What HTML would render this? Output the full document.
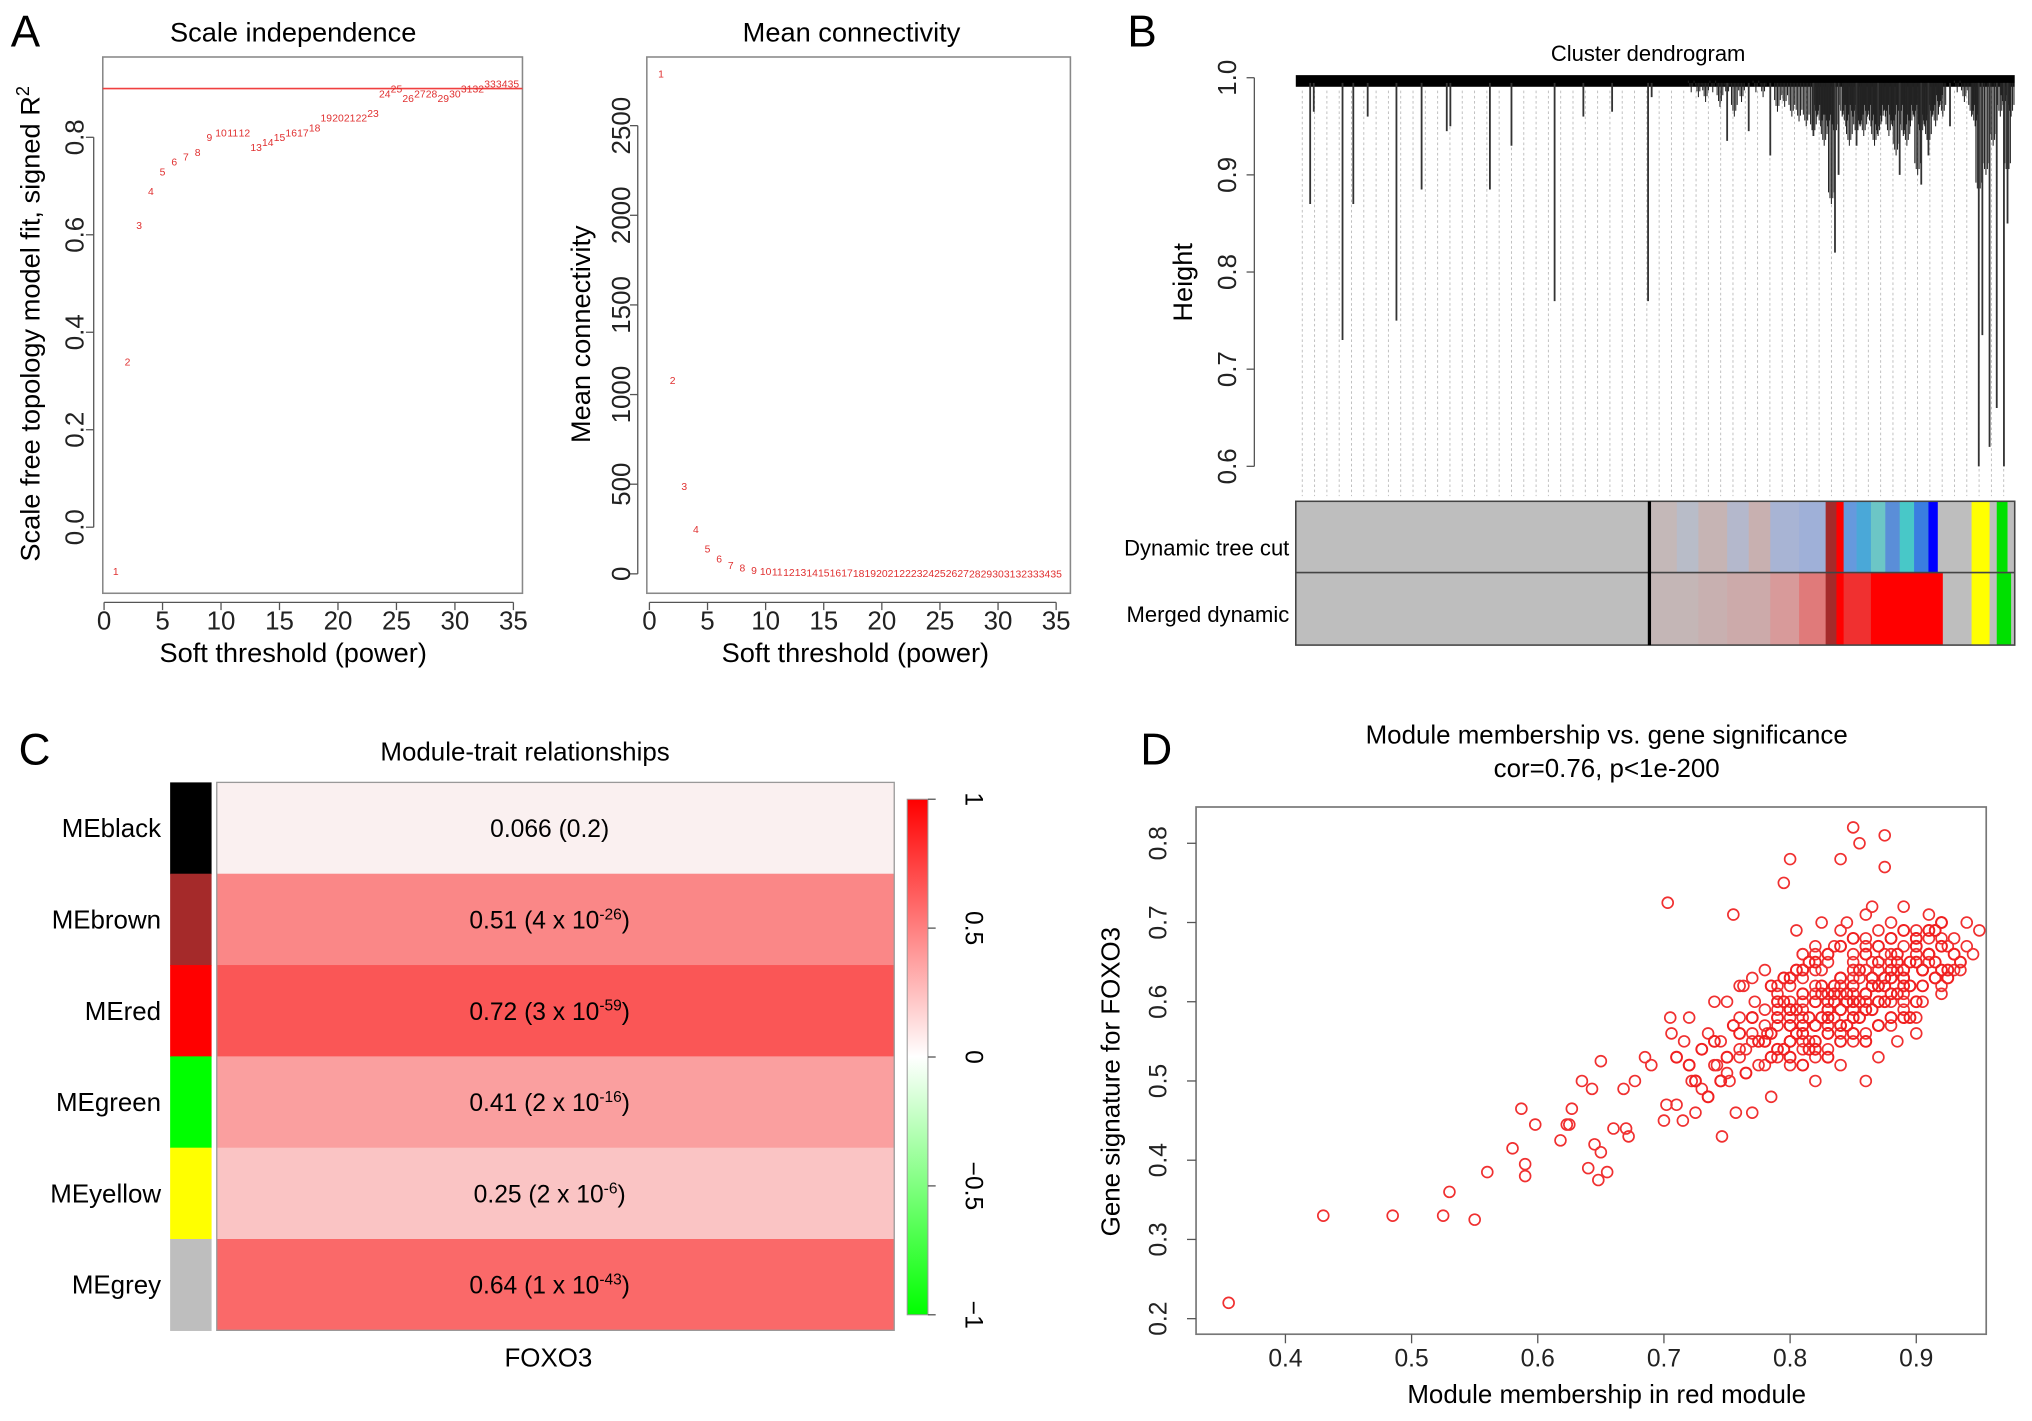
<!DOCTYPE html>
<html><head><meta charset="utf-8">
<style>
html,body{margin:0;padding:0;background:#fff;}
svg{display:block;font-family:"Liberation Sans",Arial,sans-serif;}
</style></head>
<body>
<svg id="fig" width="2032" height="1421" viewBox="0 0 1568 1097" xmlns="http://www.w3.org/2000/svg">
<rect x="0" y="0" width="1568" height="1097" fill="#fff"/>
<text x="8" y="36" font-size="34">A</text>
<text x="870" y="36" font-size="34">B</text>
<text x="14" y="590" font-size="34">C</text>
<text x="880" y="590" font-size="34">D</text>
<g id="pA1"></g>
<g id="pA2"></g>
<g id="pB"></g>
<g id="pC"></g>
<g id="pD"></g>
</svg>
<script>
// ---- Panel A data ----
const powers = [1,2,3,4,5,6,7,8,9,10,11,12,13,14,15,16,17,18,19,20,21,22,23,24,25,26,27,28,29,30,31,32,33,34,35];
const r2Values = [-0.09,0.34,0.62,0.69,0.73,0.75,0.76,0.77,0.80,0.81,0.81,0.81,0.78,0.79,0.80,0.81,0.81,0.82,0.84,0.84,0.84,0.84,0.85,0.89,0.90,0.88,0.89,0.89,0.88,0.89,0.90,0.90,0.91,0.91,0.91];
const r2Cutoff = 0.9;
const r2Ticks = [0.0,0.2,0.4,0.6,0.8];
const powerTicks = [0,5,10,15,20,25,30,35];
const meanK = [2790,1080,490,250,140,85,50,35,22,15,12,10,9,8,7,6,6,5,5,4,4,4,3,3,3,3,3,2,2,2,2,2,2,2,2];
const kTicks = [0,500,1000,1500,2000,2500];
// ---- Panel B data ----
const dendroTicks = [0.6,0.7,0.8,0.9,1.0];
const dropPos = [0.02,0.025,0.065,0.08,0.1,0.14,0.175,0.21,0.215,0.27,0.3,0.36,0.40,0.44,0.49,0.495,0.6,0.63,0.66,0.72,0.75,0.755,0.78,0.81,0.84,0.87,0.88,0.91,0.95,0.955,0.965,0.975,0.985,0.99];
const dropHeight = [0.87,0.965,0.73,0.87,0.96,0.75,0.885,0.945,0.95,0.885,0.93,0.77,0.96,0.965,0.77,0.98,0.935,0.945,0.92,0.94,0.82,0.9,0.93,0.95,0.9,0.89,0.92,0.95,0.6,0.735,0.62,0.66,0.6,0.85];
const densePos = [0.55,0.56,0.57,0.58,0.59,0.60,0.61,0.62,0.64,0.65,0.67,0.68,0.69,0.70,0.71,0.72,0.725,0.73,0.735,0.74,0.745,0.75,0.76,0.765,0.77,0.775,0.78,0.785,0.79,0.795,0.80,0.805,0.81,0.815,0.82,0.825,0.83,0.835,0.84,0.845,0.85,0.855,0.86,0.865,0.87,0.875,0.88,0.885,0.89,0.895,0.90,0.92,0.93,0.94,0.945,0.95,0.96,0.97,0.98,0.985,0.99,0.995];
const denseHeight = [0.985,0.98,0.975,0.985,0.97,0.98,0.96,0.975,0.985,0.98,0.965,0.97,0.96,0.955,0.95,0.94,0.96,0.95,0.93,0.95,0.87,0.94,0.96,0.95,0.93,0.96,0.94,0.95,0.94,0.96,0.95,0.93,0.94,0.955,0.96,0.94,0.95,0.92,0.96,0.94,0.93,0.95,0.96,0.9,0.94,0.95,0.93,0.96,0.95,0.97,0.96,0.985,0.975,0.96,0.95,0.88,0.9,0.93,0.96,0.97,0.9,0.96];
const dynStart = [0,0.49,0.53,0.56,0.6,0.63,0.66,0.7,0.737,0.752,0.762,0.78,0.8,0.82,0.84,0.86,0.88,0.893,0.94,0.965,0.975,0.99];
const dynColor = ['#bebebe','#c4b8b8','#b8bcc8','#c6b4b4','#b4b8cc','#c8b0b0','#a8b4d4','#9fb0d8','#a52a2a','#ff0000','#6699dd','#4aa8d8','#6cc6c6','#5a8ed8','#48c8c8','#3a7ee0','#0000ff','#bebebe','#ffff00','#bebebe','#00e000','#bebebe'];
const mrgStart = [0,0.49,0.56,0.6,0.66,0.7,0.737,0.752,0.762,0.8,0.9,0.94,0.965,0.975,0.995];
const mrgColor = ['#bebebe','#c4b6b6','#c8b0b0','#ccaaaa','#d89a9a','#e07a7a','#a52a2a','#ff0000','#f03030','#ff0000','#bebebe','#ffff00','#bebebe','#00e000','#bebebe'];
// ---- Panel C data ----
const modules = ['MEblack','MEbrown','MEred','MEgreen','MEyellow','MEgrey'];
const moduleColors = ['#000000','#a52a2a','#ff0000','#00ff00','#ffff00','#bebebe'];
const corValues = [0.066,0.51,0.72,0.41,0.25,0.64];
const pMant = ['0.2','4 x 10','3 x 10','2 x 10','2 x 10','1 x 10'];
const pExp = ['','-26','-59','-16','-6','-43'];
const cbTicks = [1,0.5,0,-0.5,-1];
// ---- Panel D data ----
const mmVals = [0.355,0.43,0.485,0.525,0.53,0.55,0.56,0.58,0.587,0.59,0.59,0.598,0.618,0.623,0.625,0.627,0.635,0.64,0.643,0.645,0.648,0.65,0.65,0.655,0.66,0.668,0.67,0.672,0.677,0.685,0.69,0.70,0.702,0.703,0.705,0.706,0.71,0.715,0.716,0.72,0.72,0.722,0.725,0.73,0.735,0.74,0.742,0.745,0.746,0.75,0.752,0.755,0.757,0.76,0.763,0.765,0.77,0.772,0.775,0.78,0.782,0.785,0.79,0.795,0.80,0.80,0.80,0.805,0.81,0.81,0.815,0.82,0.82,0.825,0.825,0.83,0.83,0.835,0.835,0.84,0.84,0.84,0.845,0.845,0.85,0.85,0.85,0.855,0.855,0.855,0.86,0.86,0.86,0.865,0.865,0.87,0.87,0.875,0.875,0.875,0.88,0.88,0.885,0.885,0.89,0.89,0.895,0.90,0.90,0.905,0.91,0.91,0.915,0.92,0.925,0.93,0.94,0.95,0.945,0.935,0.92,0.90,0.88,0.87,0.84,0.82,0.79,0.77,0.76,0.79,0.81,0.83,0.85,0.87,0.89,0.86,0.83,0.80,0.82,0.84,0.86,0.88,0.90,0.91,0.87,0.85,0.81,0.80,0.78,0.77,0.79,0.81,0.83,0.85,0.87,0.89,0.91,0.93,0.86,0.84,0.82,0.80,0.78,0.76,0.74,0.75,0.77,0.79,0.81,0.83,0.85,0.87,0.89,0.91,0.92,0.88,0.86,0.84,0.82,0.80,0.78,0.81,0.83,0.85,0.87,0.89,0.86,0.84,0.82,0.8,0.83,0.85,0.87,0.88,0.9,0.92,0.94,0.86,0.84,0.82,0.8,0.78,0.76,0.83,0.85,0.87,0.82,0.84,0.86,0.88,0.9,0.85,0.83,0.81,0.79,0.77];
const gsVals = [0.22,0.33,0.33,0.33,0.36,0.325,0.385,0.415,0.465,0.38,0.395,0.445,0.425,0.445,0.445,0.465,0.50,0.39,0.49,0.42,0.375,0.41,0.525,0.385,0.44,0.49,0.44,0.43,0.50,0.53,0.52,0.45,0.47,0.725,0.58,0.56,0.47,0.45,0.55,0.52,0.58,0.50,0.46,0.49,0.56,0.60,0.52,0.55,0.43,0.60,0.50,0.71,0.46,0.58,0.62,0.54,0.46,0.60,0.52,0.64,0.56,0.48,0.58,0.75,0.78,0.62,0.52,0.69,0.59,0.66,0.55,0.62,0.57,0.70,0.64,0.60,0.54,0.67,0.58,0.78,0.63,0.56,0.70,0.60,0.82,0.66,0.55,0.80,0.63,0.58,0.68,0.60,0.50,0.65,0.72,0.62,0.57,0.81,0.66,0.77,0.70,0.60,0.64,0.55,0.72,0.67,0.62,0.69,0.65,0.60,0.71,0.66,0.63,0.70,0.67,0.68,0.67,0.69,0.66,0.64,0.61,0.58,0.57,0.53,0.52,0.50,0.53,0.56,0.62,0.62,0.60,0.65,0.61,0.64,0.63,0.56,0.57,0.57,0.67,0.69,0.71,0.68,0.66,0.68,0.69,0.64,0.63,0.60,0.59,0.63,0.59,0.58,0.61,0.59,0.62,0.61,0.65,0.64,0.67,0.62,0.60,0.58,0.55,0.53,0.52,0.51,0.55,0.57,0.54,0.56,0.58,0.60,0.60,0.66,0.62,0.66,0.64,0.62,0.61,0.59,0.57,0.55,0.61,0.63,0.57,0.59,0.60,0.61,0.53,0.55,0.58,0.64,0.62,0.65,0.68,0.68,0.70,0.67,0.57,0.66,0.55,0.52,0.54,0.60,0.60,0.62,0.64,0.59,0.61,0.63,0.56,0.65,0.59,0.66,0.61,0.58];
const mmCore = [0.785,0.79,0.795,0.80,0.805,0.81,0.815,0.82,0.825,0.83,0.835,0.84,0.845,0.85,0.855,0.86,0.865,0.87,0.875,0.88,0.885,0.89,0.895,0.90,0.905,0.91,0.915,0.92,0.79,0.80,0.81,0.82,0.83,0.84,0.85,0.86,0.87,0.88,0.89,0.90,0.91,0.92,0.93,0.80,0.81,0.82,0.83,0.84,0.85,0.86,0.87,0.88,0.89,0.90,0.91,0.92,0.785,0.795,0.805,0.815,0.825,0.835,0.845,0.855,0.865,0.875,0.885,0.895,0.905,0.915,0.925,0.76,0.77,0.78,0.79,0.80,0.81,0.82,0.83,0.84,0.85,0.86,0.87,0.88,0.89,0.80,0.81,0.82,0.83,0.84,0.85,0.86,0.87,0.88,0.89,0.90,0.775,0.785,0.795,0.805,0.815,0.825,0.835,0.845,0.855,0.865,0.875,0.885,0.895,0.905,0.915,0.925,0.935,0.75,0.755,0.765,0.74,0.745,0.73,0.735,0.72,0.725,0.71];
const gsCore = [0.56,0.58,0.60,0.57,0.59,0.61,0.58,0.60,0.62,0.59,0.61,0.63,0.60,0.62,0.64,0.61,0.63,0.65,0.62,0.64,0.66,0.63,0.65,0.67,0.64,0.66,0.65,0.67,0.54,0.55,0.56,0.57,0.58,0.59,0.60,0.61,0.62,0.63,0.64,0.65,0.66,0.64,0.66,0.63,0.64,0.65,0.66,0.67,0.68,0.66,0.67,0.68,0.69,0.68,0.69,0.70,0.62,0.63,0.64,0.65,0.61,0.62,0.57,0.58,0.59,0.60,0.61,0.58,0.62,0.63,0.64,0.56,0.58,0.55,0.60,0.59,0.57,0.55,0.56,0.57,0.58,0.59,0.60,0.61,0.62,0.53,0.52,0.54,0.53,0.55,0.56,0.55,0.57,0.58,0.58,0.60,0.55,0.53,0.54,0.56,0.54,0.58,0.60,0.61,0.60,0.62,0.63,0.65,0.62,0.64,0.69,0.63,0.65,0.53,0.57,0.51,0.55,0.50,0.54,0.48,0.52,0.50,0.53,0.49];

const NS='http://www.w3.org/2000/svg';
function el(parent,tag,attrs,text){const e=document.createElementNS(NS,tag);for(const k in attrs)e.setAttribute(k,attrs[k]);if(text!==undefined)e.textContent=text;parent.appendChild(e);return e;}
const FT = 'font-size';

// ===== Panel A1 =====
(function(){
  const g=document.getElementById('pA1');
  const L=79,R=403,T=44,B=458;
  const xs=v=>80+(v-0)*(396-80)/35;
  const ys=v=>407-(v-0)*(407-106)/0.8;
  const box=el(g,'rect',{x:L,y:T,width:R-L,height:B-T,fill:'none',stroke:'#888','stroke-width':1.2});
  
  const t=el(g,'text',{x:226,y:32,'text-anchor':'middle',[FT]:21},'Scale independence');
  
  el(g,'line',{x1:xs(0),x2:xs(35),y1:465,y2:465,stroke:'#555'});
  powerTicks.forEach(v=>{el(g,'line',{x1:xs(v),x2:xs(v),y1:465,y2:471,stroke:'#555'});
    const tx=el(g,'text',{x:xs(v),y:486,'text-anchor':'middle',[FT]:20,fill:'#222'},v);
    });
  const xl=el(g,'text',{x:226,y:511,'text-anchor':'middle',[FT]:21},'Soft threshold (power)');
  
  el(g,'line',{x1:72,x2:72,y1:ys(0),y2:ys(0.8),stroke:'#555'});
  r2Ticks.forEach(v=>{el(g,'line',{x1:66,x2:72,y1:ys(v),y2:ys(v),stroke:'#555'});
    const tx=el(g,'text',{x:0,y:0,'text-anchor':'middle',[FT]:20,fill:'#222',transform:`translate(64,${ys(v)}) rotate(-90)`},v.toFixed(1));
    });
  const yl=el(g,'text',{x:0,y:0,'text-anchor':'middle',[FT]:21,transform:'translate(30,250) rotate(-90)'},'');
  yl.innerHTML='Scale free topology model fit, signed R<tspan dy="-8" font-size="14">2</tspan>';
  
  const ln=el(g,'line',{x1:L,x2:R,y1:ys(r2Cutoff),y2:ys(r2Cutoff),stroke:'#f04040','stroke-width':1.2});
  
  powers.forEach((p,i)=>{const tx=el(g,'text',{x:xs(p),y:ys(r2Values[i])+3,'text-anchor':'middle',[FT]:8,fill:'#e03030'},p);
    });
})();

// ===== Panel A2 =====
(function(){
  const g=document.getElementById('pA2');
  const L=499,R=826,T=44,B=458;
  const xs=v=>501+v*(815-501)/35;
  const ys=v=>443-v*(443-97)/2500;
  const box=el(g,'rect',{x:L,y:T,width:R-L,height:B-T,fill:'none',stroke:'#888','stroke-width':1.2});
  
  const t=el(g,'text',{x:657,y:32,'text-anchor':'middle',[FT]:21},'Mean connectivity');
  
  el(g,'line',{x1:xs(0),x2:xs(35),y1:465,y2:465,stroke:'#555'});
  powerTicks.forEach(v=>{el(g,'line',{x1:xs(v),x2:xs(v),y1:465,y2:471,stroke:'#555'});
    const tx=el(g,'text',{x:xs(v),y:486,'text-anchor':'middle',[FT]:20,fill:'#222'},v);
    });
  const xl=el(g,'text',{x:660,y:511,'text-anchor':'middle',[FT]:21},'Soft threshold (power)');
  
  el(g,'line',{x1:492,x2:492,y1:ys(0),y2:ys(2500),stroke:'#555'});
  kTicks.forEach(v=>{el(g,'line',{x1:486,x2:492,y1:ys(v),y2:ys(v),stroke:'#555'});
    const tx=el(g,'text',{x:0,y:0,'text-anchor':'middle',[FT]:20,fill:'#222',transform:`translate(486,${ys(v)}) rotate(-90)`},v);
    });
  const yl=el(g,'text',{x:0,y:0,'text-anchor':'middle',[FT]:21,transform:'translate(455,258) rotate(-90)'},'Mean connectivity');
  
  powers.forEach((p,i)=>{const tx=el(g,'text',{x:xs(p),y:ys(meanK[i])+3,'text-anchor':'middle',[FT]:8,fill:'#e03030'},p);
    });
})();

// ===== Panel B =====
(function(){
  const g=document.getElementById('pB');
  const L=1000,R=1555;
  const xs=f=>L+f*(R-L);
  const ys=h=>60+(1.0-h)*(360-60)/0.4;
  const t=el(g,'text',{x:1272,y:47,'text-anchor':'middle',[FT]:17},'Cluster dendrogram');
  
  el(g,'line',{x1:968,x2:968,y1:ys(0.6),y2:ys(1.0),stroke:'#555'});
  dendroTicks.forEach(v=>{el(g,'line',{x1:962,x2:968,y1:ys(v),y2:ys(v),stroke:'#555'});
    const tx=el(g,'text',{x:0,y:0,'text-anchor':'middle',[FT]:20,fill:'#222',transform:`translate(954,${ys(v)}) rotate(-90)`},v.toFixed(1));
    });
  const yl=el(g,'text',{x:0,y:0,'text-anchor':'middle',[FT]:21,transform:'translate(920,218) rotate(-90)'},'Height');
  
  for(let x=1005;x<1552;x+=9.5){el(g,'line',{x1:x,x2:x,y1:70,y2:383,stroke:'#bbb','stroke-width':0.7,'stroke-dasharray':'2,2'});}
  const top=el(g,'rect',{x:L,y:58,width:R-L,height:9,fill:'#000'});
  
  densePos.forEach((p,i)=>{for(let k=-2;k<=2;k++){const d=el(g,'line',{x1:xs(p)+k*1.1,x2:xs(p)+k*1.1,y1:64,y2:ys(denseHeight[i]+Math.abs(k)*0.006),stroke:'#222','stroke-width':0.8});
    }});
  dropPos.forEach((p,i)=>{const d=el(g,'line',{x1:xs(p),x2:xs(p),y1:64,y2:ys(dropHeight[i]),stroke:'#333','stroke-width':1.4});
    });
  function band(starts,colors,y,h,name){starts.forEach((s,i)=>{const e=(i+1<starts.length)?starts[i+1]:1;
    const r=el(g,'rect',{x:xs(s),y:y,width:xs(e)-xs(s)+0.3,height:h,fill:colors[i]});
    });}
  band(dynStart,dynColor,387,55,'dynamic-tree-cut-band');
  band(mrgStart,mrgColor,442,56,'merged-dynamic-band');
  el(g,'rect',{x:L,y:387,width:R-L,height:111,fill:'none',stroke:'#444','stroke-width':1.2});
  el(g,'line',{x1:L,x2:R,y1:442,y2:442,stroke:'#444','stroke-width':1.2});
  el(g,'line',{x1:1273,x2:1273,y1:387,y2:498,stroke:'#000','stroke-width':2.5});
  const a=el(g,'text',{x:995,y:429,'text-anchor':'end',[FT]:17},'Dynamic tree cut');
  
  const b=el(g,'text',{x:995,y:480,'text-anchor':'end',[FT]:17},'Merged dynamic');
  
})();

// ===== Panel C =====
(function(){
  const g=document.getElementById('pC');
  const T=604,rowH=(1027-604)/modules.length;
  const col=v=>{if(v>=0){const c=Math.round(255*(1-v*0.92));return `rgb(250,${c},${c})`;}const c=Math.round(255*(1+v));return `rgb(${c},255,${c})`;};
  const t=el(g,'text',{x:405,y:587,'text-anchor':'middle',[FT]:20},'Module-trait relationships');
  
  modules.forEach((m,i)=>{const y=T+i*rowH;
    const s=el(g,'rect',{x:131,y:y,width:32,height:rowH+0.5,fill:moduleColors[i]});
    
    const c=el(g,'rect',{x:167,y:y,width:523,height:rowH+0.5,fill:col(corValues[i])});
    
    const lb=el(g,'text',{x:124,y:y+rowH/2+7,'text-anchor':'end',[FT]:20},m);
    
    const ct=el(g,'text',{x:424,y:y+rowH/2+7,'text-anchor':'middle',[FT]:19},'');
    ct.innerHTML=pExp[i]?`${corValues[i]} (${pMant[i]}<tspan dy="-7" font-size="12">${pExp[i]}</tspan><tspan dy="7">)</tspan>`:`${corValues[i]} (${pMant[i]})`;
    });
  el(g,'rect',{x:167,y:T,width:523,height:1027-T,fill:'none',stroke:'#999','stroke-width':1});
  const fx=el(g,'text',{x:423,y:1055,'text-anchor':'middle',[FT]:20},'FOXO3');
  
  const defs=el(g,'defs',{});const lg=el(defs,'linearGradient',{id:'cbg',x1:0,y1:0,x2:0,y2:1});
  el(lg,'stop',{offset:'0','stop-color':'#ff0000'});el(lg,'stop',{offset:'0.5','stop-color':'#ffffff'});el(lg,'stop',{offset:'1','stop-color':'#00ff00'});
  const cbs=v=>617+(1-v)*(1015-617)/2;
  const cb=el(g,'rect',{x:700,y:617,width:16,height:398,fill:'url(#cbg)',stroke:'#999','stroke-width':0.8});
  
  cbTicks.forEach(v=>{el(g,'line',{x1:716,x2:722,y1:cbs(v),y2:cbs(v),stroke:'#555'});
    const tx=el(g,'text',{x:0,y:0,'text-anchor':'middle',[FT]:19,transform:`translate(745,${cbs(v)}) rotate(90)`},v===0?'0':String(v).replace('-','\u2212'));
    });
})();

// ===== Panel D =====
(function(){
  const g=document.getElementById('pD');
  const L=923,R=1533,T=623,B=1030;
  const xs=v=>992+(v-0.4)*(1479-992)/0.5;
  const ys=v=>1018-(v-0.2)*(1018-651)/0.6;
  const xTicks=[0.4,0.5,0.6,0.7,0.8,0.9], yTicks=[0.2,0.3,0.4,0.5,0.6,0.7,0.8];
  const t1=el(g,'text',{x:1240,y:574,'text-anchor':'middle',[FT]:20},'Module membership vs. gene significance');
  
  const t2=el(g,'text',{x:1240,y:600,'text-anchor':'middle',[FT]:20},'cor=0.76, p<1e-200');
  
  const box=el(g,'rect',{x:L,y:T,width:R-L,height:B-T,fill:'none',stroke:'#777','stroke-width':1.3});
  
  xTicks.forEach(v=>{el(g,'line',{x1:xs(v),x2:xs(v),y1:B,y2:B+7,stroke:'#555'});
    const tx=el(g,'text',{x:xs(v),y:B+25,'text-anchor':'middle',[FT]:19,fill:'#222'},v.toFixed(1));
    });
  yTicks.forEach(v=>{el(g,'line',{x1:L-7,x2:L,y1:ys(v),y2:ys(v),stroke:'#555'});
    const tx=el(g,'text',{x:0,y:0,'text-anchor':'middle',[FT]:19,fill:'#222',transform:`translate(900,${ys(v)}) rotate(-90)`},v.toFixed(1));
    });
  const xl=el(g,'text',{x:1240,y:1083,'text-anchor':'middle',[FT]:20},'Module membership in red module');
  
  const yl=el(g,'text',{x:0,y:0,'text-anchor':'middle',[FT]:20,transform:'translate(864,835) rotate(-90)'},'Gene signature for FOXO3');
  
  mmVals.forEach((m,i)=>{const c=el(g,'circle',{cx:xs(m),cy:ys(gsVals[i]),r:4.2,fill:'none',stroke:'#f03030','stroke-width':1.3});
    });
  mmCore.forEach((m,i)=>{const c=el(g,'circle',{cx:xs(m),cy:ys(gsCore[i]),r:4.2,fill:'none',stroke:'#f02020','stroke-width':1.5});
    });
})();
</script>
</body></html>
